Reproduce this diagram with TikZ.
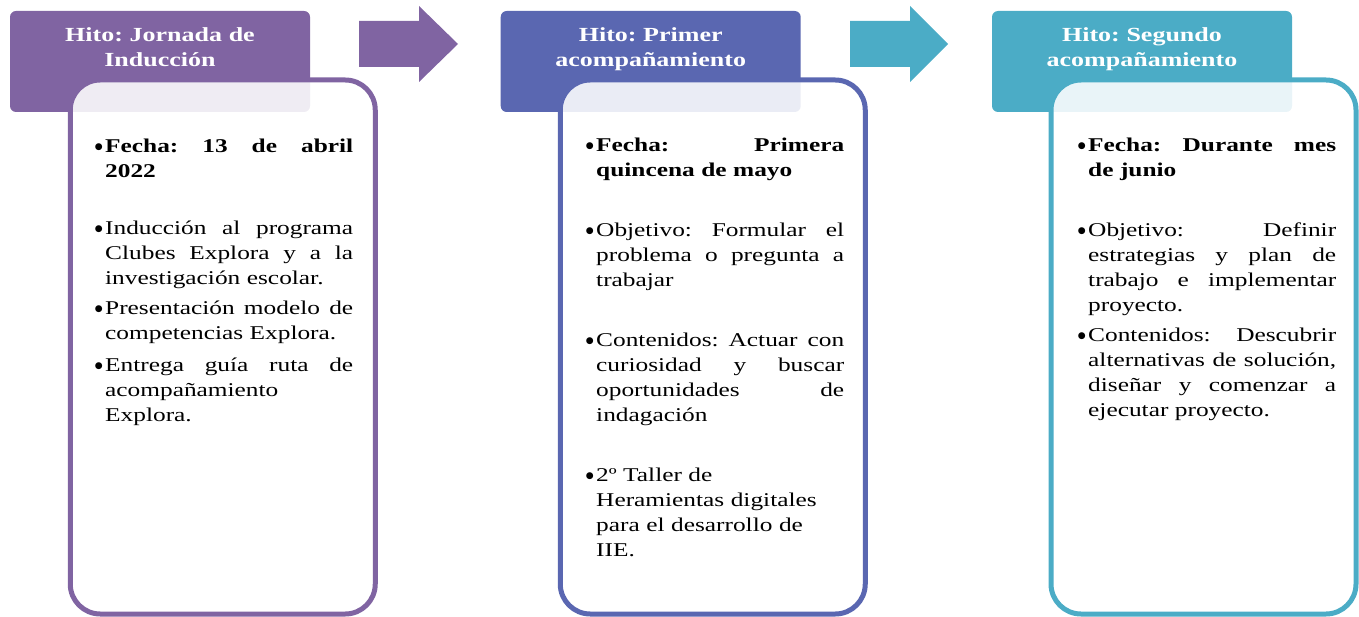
\documentclass[tikz,border=0pt]{standalone}
\usepackage{fontspec}
\setmainfont{Liberation Serif}[FakeStretch=1.3]
\newfontfamily\bulfont{DejaVu Sans}
\definecolor{purp}{HTML}{8064A2}
\definecolor{blu}{HTML}{5A67B1}
\definecolor{teal}{HTML}{4BACC6}
\frenchspacing
\newcommand{\itembul}{\llap{\raisebox{3.2pt}{\bulfont\fontsize{9}{9}\selectfont ●}\hspace{2.5pt}}}
\newcommand{\justline}[1]{\makebox[\linewidth][s]{\spaceskip=\fontdimen2\font plus 1fil\xspaceskip=\spaceskip #1}}
\tikzset{
  hdr/.style={rounded corners=6pt, fill=#1, inner sep=0, minimum width=300pt, minimum height=101pt},
  bodybox/.style={draw=#1, line width=5pt, rounded corners=30pt, fill=white, fill opacity=0.88, minimum width=305pt, minimum height=534pt, inner sep=0},
  htext/.style={text=white, font=\fontsize{20}{25}\selectfont\bfseries\frenchspacing, text width=300pt, align=center, anchor=base, inner sep=0},
  ptext/.style={text width=248pt, align=left, anchor=base west, inner sep=0, font=\fontsize{19.5}{25}\selectfont\frenchspacing},
  blockarrow/.style={fill=#1}
}
\begin{document}
\begin{tikzpicture}[x=1pt,y=-1pt]
\useasboundingbox (0,0) rectangle (1359,617);
% headers
\node[hdr=purp] (h1) at (160,61.5) {};
\node[hdr=blu] (h2) at (650.7,61.5) {};
\node[hdr=teal] (h3) at (1142,61.5) {};
% block arrows
\fill[blockarrow=purp] (359,21) -- (419,21) -- (419,6) -- (458,44) -- (419,82) -- (419,67) -- (359,67) -- cycle;
\fill[blockarrow=teal] (850,21) -- (910,21) -- (910,6) -- (948,44) -- (910,82) -- (910,67) -- (850,67) -- cycle;
% bodies
\node[bodybox=purp] (b1) at (222.75,347) {};
\node[bodybox=blu] (b2) at (712.75,347) {};
\node[bodybox=teal] (b3) at (1203.5,347) {};
% header texts
\node[htext] (h1t) at (160,41.7) {Hito: Jornada de\\Inducción};
\node[htext] (h2t) at (650.7,41.7) {Hito: Primer\\acompañamiento};
\node[htext] (h3t) at (1142,41.7) {Hito: Segundo\\acompañamiento};
% body 1
\node[ptext] (p11) at (105,152.5) {\bfseries\itembul\justline{Fecha: 13 de abril}\\2022};
\node[ptext] (p12) at (105,235) {\itembul\justline{Inducción al programa}\\\justline{Clubes Explora y  a la}\\investigación escolar.};
\node[ptext] (p13) at (105,315) {\itembul\justline{Presentación modelo de}\\competencias Explora.};
\node[ptext] (p14) at (105,371.5) {\itembul\justline{Entrega guía ruta de}\\acompañamiento\\Explora.};
% body 2
\node[ptext] (p21) at (596,152) {\bfseries\itembul\justline{Fecha: Primera}\\quincena de mayo};
\node[ptext] (p22) at (596,236.7) {\itembul\justline{Objetivo: Formular el}\\\justline{problema o pregunta a}\\trabajar};
\node[ptext] (p23) at (596,346.7) {\itembul\justline{Contenidos: Actuar con}\\\justline{curiosidad y buscar}\\\justline{oportunidades de}\\indagación};
\node[ptext] (p24) at (596,481.7) {\itembul 2º Taller de\\Heramientas digitales\\para el desarrollo de\\IIE.};
% body 3
\node[ptext] (p31) at (1088,152) {\bfseries\itembul\justline{Fecha: Durante mes}\\de junio};
\node[ptext] (p32) at (1088,236.7) {\itembul\justline{Objetivo: Definir}\\\justline{estrategias y plan de}\\\justline{trabajo e implementar}\\proyecto.};
\node[ptext] (p33) at (1088,341.7) {\itembul\justline{Contenidos: Descubrir}\\\justline{alternativas de solución,}\\\justline{diseñar y comenzar a}\\ejecutar proyecto.};
\end{tikzpicture}
\end{document}
